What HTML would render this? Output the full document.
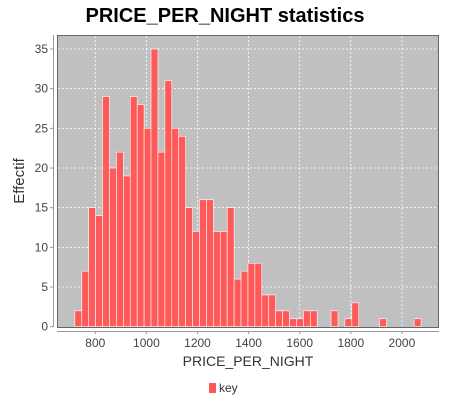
<!DOCTYPE html>
<html><head><meta charset="utf-8"><style>
body{margin:0;background:#fff;font-family:"Liberation Sans",sans-serif}
svg{display:block}
</style></head><body>
<svg id="c" width="450" height="400">
<text x="225" y="22" text-anchor="middle" font-size="20" font-weight="bold" fill="#000">PRICE_PER_NIGHT statistics</text>
<rect x="57.5" y="35.5" width="381" height="292" fill="#c0c0c0" stroke="#666"/>
<g id="grid"></g><g id="bars"></g><g id="axes"></g>
<text transform="translate(24,181) rotate(-90)" text-anchor="middle" font-size="15" fill="#333">Effectif</text>
<text x="248" y="366" text-anchor="middle" font-size="14" fill="#333">PRICE_PER_NIGHT</text>
<g><rect x="209" y="383" width="7" height="10" fill="#ff5555"/><text x="219" y="392" font-size="12" fill="#333">key</text></g>
</svg>
<script>
const binStart = 720;
const binWidth = 27.1;
const counts = [2,7,15,14,29,20,22,19,29,28,25,35,22,31,25,24,15,12,16,16,12,12,15,6,7,8,8,4,4,2,2,1,1,2,2,0,0,2,0,1,3,0,0,0,1,0,0,0,0,1];
const xTicks = [800,1000,1200,1400,1600,1800,2000];
const yTicks = [0,5,10,15,20,25,30,35];
const NS="http://www.w3.org/2000/svg";
const xs = v => 95.3 + (v-800)*0.2555;
const ys = v => 326.7 - v*7.934;
function mk(tag, attrs, parent){const e=document.createElementNS(NS,tag);for(const k in attrs)e.setAttribute(k,attrs[k]);document.getElementById(parent).appendChild(e);return e;}
yTicks.forEach(t=>{
  if(t>0){const g=mk('line',{x1:58,x2:438,y1:ys(t),y2:ys(t),stroke:'#fff','stroke-dasharray':'2,2','stroke-width':0.8},'grid');
  
  }
  const tk=mk('line',{x1:50,x2:53,y1:ys(t),y2:ys(t),stroke:'#999'},'axes');
  
  
  const l=mk('text',{x:48,y:ys(t)+4,'text-anchor':'end','font-size':12,fill:'#444'},'axes');
  l.textContent=t;
  
  
});
xTicks.forEach(t=>{
  const g=mk('line',{x1:xs(t),x2:xs(t),y1:36,y2:327,stroke:'#fff','stroke-dasharray':'2,2','stroke-width':0.8},'grid');
  
  
  const tk=mk('line',{x1:xs(t),x2:xs(t),y1:331,y2:334,stroke:'#999'},'axes');
  
  
  const l=mk('text',{x:xs(t),y:347,'text-anchor':'middle','font-size':12,fill:'#444'},'axes');
  l.textContent=t;
  
  
});
const ya=mk('line',{x1:53.5,x2:53.5,y1:35,y2:327,stroke:'#999'},'axes');


const xa=mk('line',{x1:57,x2:439,y1:331.5,y2:331.5,stroke:'#999'},'axes');


counts.forEach((c,i)=>{
  if(c<=0)return;
  const x0=xs(binStart+i*binWidth), x1=xs(binStart+(i+1)*binWidth);
  const r=mk('rect',{x:x0,y:ys(c),width:x1-x0,height:ys(0)-ys(c),fill:'#ff5a5a',stroke:'#fff','stroke-width':0.6},'bars');
  
  
});
</script>
</body></html>
